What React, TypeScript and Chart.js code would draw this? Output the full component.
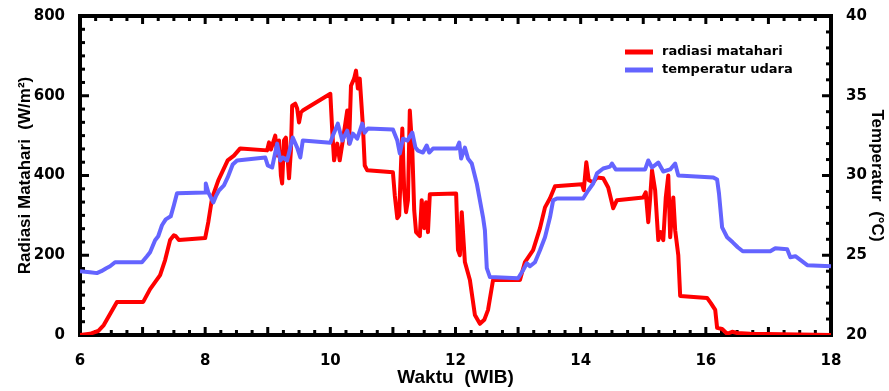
import React, { useEffect, useRef } from 'react';
import { Chart, registerables } from 'chart.js';

Chart.register(...registerables);

// Radiasi matahari (W/m2) vs waktu (jam, WIB)
const radTime = [
  6.0, 6.16, 6.29, 6.38, 6.59, 7.01, 7.12, 7.28, 7.36, 7.44, 7.5, 7.53, 7.58, 8.0, 8.05, 8.11, 8.21, 8.27, 8.36, 8.46,
  8.56, 8.99, 9.02, 9.05, 9.12, 9.15, 9.18, 9.21, 9.23, 9.26, 9.29, 9.32, 9.34, 9.37, 9.39, 9.44, 9.47, 9.5, 9.53, 9.56,
  10.0, 10.03, 10.06, 10.11, 10.15, 10.2, 10.27, 10.3, 10.33, 10.38, 10.41, 10.44, 10.47, 10.52, 10.55, 10.59,
  11.0, 11.03, 11.07, 11.1, 11.15, 11.18, 11.21, 11.24, 11.27, 11.31, 11.34, 11.37, 11.43, 11.46, 11.5, 11.53, 11.56, 11.59,
  12.01, 12.04, 12.07, 12.1, 12.15, 12.23, 12.31, 12.39, 12.46, 12.52, 12.6,
  13.03, 13.11, 13.24, 13.35, 13.43, 13.51, 13.59,
  14.02, 14.05, 14.09, 14.13, 14.2, 14.26, 14.36, 14.44, 14.52, 14.58,
  15.0, 15.04, 15.08, 15.11, 15.14, 15.19, 15.24, 15.28, 15.32, 15.36, 15.4, 15.43, 15.48, 15.51, 15.56, 15.59,
  16.02, 16.08, 16.15, 16.18, 16.26, 16.34, 16.42, 16.5, 16.71, 18.0,
];
const radValue = [
  0, 3, 10, 25, 83, 83, 115, 150, 188, 238, 250, 248, 238, 243, 283, 343, 388, 408, 438, 450,
  468, 463, 483, 465, 500, 450, 488, 400, 380, 488, 495, 438, 393, 463, 575, 580, 568, 533, 558, 563,
  605, 513, 438, 480, 438, 488, 563, 480, 625, 643, 663, 618, 643, 525, 425, 413,
  408, 350, 293, 300, 518, 363, 308, 338, 563, 463, 313, 258, 248, 338, 268, 333, 258, 353,
  355, 213, 200, 308, 183, 138, 50, 28, 38, 63, 138,
  138, 183, 213, 268, 320, 343, 373,
  378, 363, 433, 388, 383, 395, 393, 370, 318, 338,
  345, 358, 283, 343, 413, 363, 238, 258, 238, 345, 400, 245, 345, 263, 200, 98,
  93, 80, 63, 18, 15, 3, 8, 5, 3, 0,
];

// Temperatur udara (°C) vs waktu (jam, WIB)
const tempTime = [
  6.0, 6.16, 6.27, 6.34, 6.42, 6.48, 6.56, 6.99, 7.07, 7.12, 7.2, 7.25, 7.31, 7.37, 7.45, 7.5, 7.55,
  8.0, 8.01, 8.05, 8.13, 8.17, 8.22, 8.3, 8.36, 8.44, 8.51, 8.96,
  9.0, 9.07, 9.15, 9.2, 9.24, 9.31, 9.4, 9.47, 9.52, 9.56,
  10.0, 10.04, 10.12, 10.19, 10.27, 10.31, 10.36, 10.43, 10.51, 10.55, 10.6,
  11.0, 11.07, 11.11, 11.16, 11.23, 11.31, 11.36, 11.4, 11.48, 11.54, 11.58, 11.64,
  12.02, 12.06, 12.09, 12.15, 12.2, 12.26, 12.34, 12.39, 12.44, 12.47, 12.5, 12.55,
  13.0, 13.08, 13.14, 13.19, 13.27, 13.35, 13.43, 13.51, 13.56, 13.62,
  14.04, 14.12, 14.2, 14.26, 14.36, 14.47, 14.5, 14.56,
  15.03, 15.08, 15.14, 15.24, 15.32, 15.43, 15.51, 15.56,
  16.12, 16.18, 16.21, 16.26, 16.34, 16.43, 16.51, 16.59,
  17.03, 17.11, 17.3, 17.35, 17.43, 17.62, 18.0,
];
const tempValue = [
  24.0, 23.94, 23.88, 24.0, 24.19, 24.31, 24.56, 24.56, 24.94, 25.19, 25.94, 26.19, 26.88, 27.25, 27.44, 28.13, 28.88,
  28.94, 29.5, 28.94, 28.31, 28.69, 29.06, 29.38, 29.88, 30.69, 30.94, 31.13,
  30.63, 30.5, 32.0, 30.94, 31.13, 30.94, 32.38, 31.75, 31.13, 32.19,
  32.06, 32.5, 33.25, 32.19, 32.81, 32.0, 32.63, 32.31, 33.25, 32.69, 32.94,
  32.88, 32.19, 31.38, 32.31, 32.19, 32.69, 31.75, 31.56, 31.44, 31.88, 31.44, 31.69,
  31.69, 32.06, 31.06, 31.75, 31.06, 30.75, 29.5, 28.44, 27.38, 26.56, 24.19, 23.63,
  23.56, 24.06, 24.5, 24.31, 24.56, 25.31, 26.13, 27.38, 28.44, 28.56,
  28.56, 29.06, 29.5, 30.13, 30.44, 30.56, 30.75, 30.38,
  30.38, 30.94, 30.5, 30.81, 30.25, 30.38, 30.75, 30.0,
  29.88, 29.75, 28.88, 26.75, 26.13, 25.81, 25.5, 25.25,
  25.25, 25.44, 25.38, 24.88, 24.94, 24.38, 24.31,
];

const seriesNames = ['radiasi matahari', 'temperatur udara'];
const seriesColors = ['#ff0000', 'rgb(100,100,255)'];

const framePlugin = {
  id: 'frameTicks',
  beforeDatasetsDraw(chart: any) {
    const { ctx, chartArea, scales } = chart;
    const { left, right, top, bottom } = chartArea;
    ctx.save();
    ctx.strokeStyle = '#000';
    ctx.lineCap = 'butt';
    ctx.lineWidth = 3;
    const seg = (x1: number, y1: number, x2: number, y2: number) => {
      ctx.beginPath();
      ctx.moveTo(x1, y1);
      ctx.lineTo(x2, y2);
      ctx.stroke();
    };
    // x ticks (bottom and top)
    const xs = scales.x;
    for (let i = 0; i <= 48; i++) {
      const v = xs.min + i * 0.25;
      const p = xs.getPixelForValue(v);
      const len = i % 4 === 0 ? 8 : 5;
      seg(p, bottom, p, bottom - len);
      seg(p, top, p, top + len);
    }
    // left ticks
    const ys = scales.y;
    for (let i = 0; i <= 24; i++) {
      const v = ys.min + (i * 800) / 24;
      const p = ys.getPixelForValue(v);
      const len = i % 6 === 0 ? 9 : 5;
      seg(left, p, left + len, p);
    }
    // right ticks
    const y2 = scales.y2;
    for (let i = 0; i <= 20; i++) {
      const v = y2.min + i;
      const p = y2.getPixelForValue(v);
      const len = i % 5 === 0 ? 9 : 5;
      seg(right, p, right - len, p);
    }
    ctx.lineWidth = 4;
    ctx.strokeRect(left, top, right - left, bottom - top);
    ctx.restore();
  },
  afterDatasetsDraw(chart: any) {
    const { ctx } = chart;
    ctx.save();
    const ys = [52, 70];
    seriesNames.forEach((name, i) => {
      ctx.strokeStyle = seriesColors[i];
      ctx.lineWidth = 5;
      ctx.beginPath();
      ctx.moveTo(625, ys[i]);
      ctx.lineTo(653, ys[i]);
      ctx.stroke();
      ctx.fillStyle = '#000';
      ctx.font = 'bold 13px "DejaVu Sans"';
      ctx.textBaseline = 'middle';
      ctx.textAlign = 'left';
      ctx.fillText(name, 662, ys[i]);
    });
    ctx.restore();
  },
};

export default function App() {
  const ref = useRef<HTMLCanvasElement | null>(null);
  useEffect(() => {
    if (!ref.current) return;
    const tickFont = { family: '"DejaVu Sans"', weight: 'bold' as const, size: 15 };
    const titleFont = { family: '"Liberation Sans", Arial', weight: 'bold' as const, size: 17 };
    const xTitleFont = { family: '"Liberation Sans", Arial', weight: 'bold' as const, size: 19 };
    const chart = new Chart(ref.current, {
      type: 'line',
      data: {
        datasets: [
          {
            label: seriesNames[0],
            data: radTime.map((t, i) => ({ x: t, y: radValue[i] })),
            borderColor: seriesColors[0],
            backgroundColor: seriesColors[0],
            borderWidth: 4,
            pointRadius: 0,
            tension: 0,
            yAxisID: 'y',
            order: 1,
            borderJoinStyle: 'round',
          },
          {
            label: seriesNames[1],
            data: tempTime.map((t, i) => ({ x: t, y: tempValue[i] })),
            borderColor: seriesColors[1],
            backgroundColor: seriesColors[1],
            borderWidth: 4,
            pointRadius: 0,
            tension: 0,
            yAxisID: 'y2',
            order: 0,
            borderJoinStyle: 'round',
          },
        ],
      },
      options: {
        responsive: false,
        animation: false,
        devicePixelRatio: 1,
        layout: { padding: { top: 15, left: 0, right: 0, bottom: 0 } },
        plugins: { legend: { display: false }, tooltip: { enabled: false } },
        scales: {
          x: {
            type: 'linear',
            position: 'bottom',
            min: 6,
            max: 18,
            grid: { display: false },
            border: { display: false },
            ticks: { stepSize: 2, color: '#000', font: tickFont, padding: 9, maxRotation: 0 },
            title: { display: true, text: 'Waktu  (WIB)', color: '#000', font: xTitleFont, padding: { top: 2, bottom: 2 } },
            afterFit: (s: any) => { s.height = 56; },
          },
          y: {
            type: 'linear',
            position: 'left',
            min: 0,
            max: 800,
            grid: { display: false },
            border: { display: false },
            ticks: { stepSize: 200, color: '#000', font: tickFont, padding: 7 },
            title: { display: true, text: 'Radiasi Matahari  (W/m²)', color: '#000', font: titleFont, padding: { top: 15, bottom: 15 } },
            afterFit: (s: any) => { s.width = 80; },
          },
          y2: {
            type: 'linear',
            position: 'right',
            min: 20,
            max: 40,
            grid: { display: false },
            border: { display: false },
            ticks: { stepSize: 5, color: '#000', font: tickFont, padding: 7 },
            title: { display: true, text: 'Temperatur  (°C)', color: '#000', font: titleFont, padding: { top: 2, bottom: 2 } },
            afterFit: (s: any) => { s.width = 58; },
          },
        },
      },
      plugins: [framePlugin],
    });
    return () => chart.destroy();
  }, []);
  return (
    <div style={{ position: 'absolute', left: 0, top: 0, width: 889, height: 391, background: '#fff' }}>
      <canvas ref={ref} width={889} height={391} />
    </div>
  );
}
